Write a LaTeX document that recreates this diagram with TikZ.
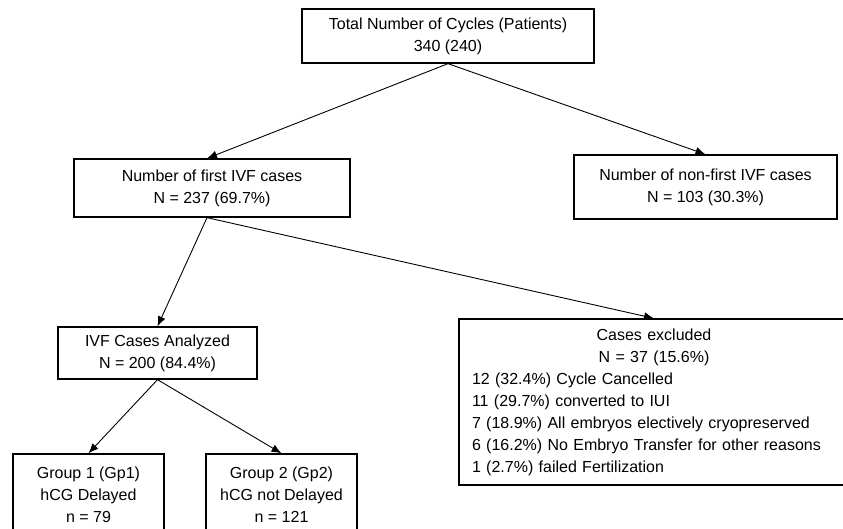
\documentclass[tikz,border=0pt]{standalone}
\usepackage{fontspec}
\setmainfont{Liberation Sans}
\usetikzlibrary{arrows.meta}
\tikzset{
	flowbox/.style={draw, line width=1.3pt, align=center, inner sep=0pt, font=\fontsize{16}{22}\selectfont},
	flowarrow/.style={line width=0.9pt, -{Latex[length=10pt,width=8pt]}},
}

\begin{document}
\begin{tikzpicture}[x=1pt,y=-1pt]
		\useasboundingbox (0,0) rectangle (843,528);
		\clip (0,0) rectangle (843,528);
		\node[flowbox, minimum width=292pt, minimum height=54pt] (total) at (448,36) {Total Number of Cycles (Patients)\\340 (240)};
		\node[flowbox, minimum width=276pt, minimum height=58pt] (first) at (212,188) {Number of first IVF cases\\N = 237 (69.7\%)};
		\node[flowbox, minimum width=263pt, minimum height=64pt] (nonfirst) at (705.5,187) {Number of non-first IVF cases\\N = 103 (30.3\%)};
		\node[flowbox, minimum width=199pt, minimum height=52pt] (analyzed) at (157.5,353) {IVF Cases Analyzed\\N = 200 (84.4\%)};
		\node[flowbox, minimum width=151pt, minimum height=81pt] (gpone) at (88.5,494.5) {Group 1 (Gp1)\\hCG Delayed\\n = 79};
		\node[flowbox, minimum width=151pt, minimum height=81pt] (gptwo) at (281.5,494.5) {Group 2 (Gp2)\\hCG not Delayed\\n = 121};
		\node[flowbox, minimum width=390pt, minimum height=166pt, text width=364pt, align=left] (excluded) at (654,402) {{\centering Cases excluded\\N = 37 (15.6\%)\par}12 (32.4\%) Cycle Cancelled\\11 (29.7\%) converted to IUI\\7 (18.9\%) All embryos electively cryopreserved\\6 (16.2\%) No Embryo Transfer for other reasons\\1 (2.7\%) failed Fertilization};
		\draw[flowarrow] (total.south) -- ([xshift=-5pt]first.north);
		\draw[flowarrow] (total.south) -- (nonfirst.north);
		\draw[flowarrow] ([xshift=-5pt]first.south) -- (analyzed.north);
		\draw[flowarrow] ([xshift=-5pt]first.south) -- (excluded.north);
		\draw[flowarrow] (analyzed.south) -- (gpone.north);
		\draw[flowarrow] (analyzed.south) -- (gptwo.north);
	\end{tikzpicture}
\end{document}
